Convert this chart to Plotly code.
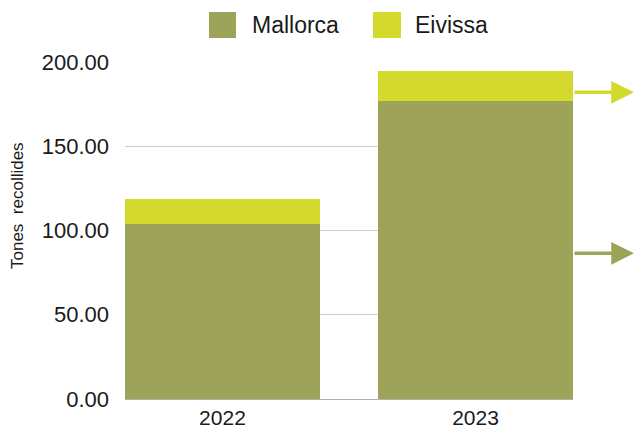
import plotly.graph_objects as go

years = ["2022", "2023"]
series_names = ["Mallorca", "Eivissa"]
mallorca = [104.0, 177.0]
eivissa = [14.5, 17.8]
colors = ["#9ea35a", "#d4d92e"]
y_ticks = [0, 50, 100, 150, 200]
arrow_levels = [182.0, 86.5]   # Eivissa arrow, Mallorca arrow
arrow_colors = [colors[1], colors[0]]

FONT = "Liberation Sans"
L, R, T, B = 125, 62, 62, 30
W, H = 635, 429
pw = W - L - R
ph = H - T - B

fig = go.Figure()
for name, vals, col in zip(series_names, [mallorca, eivissa], colors):
    fig.add_trace(go.Bar(x=years, y=vals, name=name, marker=dict(color=col, line=dict(width=0)),
                         width=0.77, showlegend=False, hoverinfo="skip"))

shapes = []
annotations = []

def px_x(p):
    return (p - L) / pw

def px_y(p):
    return (H - B - p) / ph

# manual legend
leg = [(209, 236, 250), (373, 401, 413)]
for (sx0, sx1, tx), name, col in zip(leg, series_names, colors):
    shapes.append(dict(type="rect", xref="paper", yref="paper",
                       x0=px_x(sx0), x1=px_x(sx1), y0=px_y(38), y1=px_y(12),
                       fillcolor=col, line=dict(width=0)))
    annotations.append(dict(xref="paper", yref="paper", x=px_x(tx), y=px_y(25),
                            text=name, showarrow=False, xanchor="left", yanchor="middle",
                            font=dict(family=FONT, size=23, color="#1a1a1a")))

# arrows to the right
for lvl, col in zip(arrow_levels, arrow_colors):
    annotations.append(dict(xref="paper", yref="y", x=px_x(634), y=lvl, text="",
                            showarrow=True, ax=-61, ay=0, arrowhead=2, arrowsize=1.3,
                            arrowwidth=3.5, arrowcolor=col, standoff=0, startstandoff=0))

# y axis title
annotations.append(dict(xref="paper", yref="paper", x=px_x(17), y=px_y(206),
                        text="Tones  recollides", textangle=-90, showarrow=False,
                        xanchor="center", yanchor="middle",
                        font=dict(family=FONT, size=17, color="#1a1a1a")))

fig.update_layout(
    width=W, height=H,
    margin=dict(l=L, r=R, t=T, b=B, pad=0, autoexpand=False),
    barmode="stack",
    paper_bgcolor="white", plot_bgcolor="white",
    font=dict(family=FONT, color="#1a1a1a"),
    shapes=shapes, annotations=annotations,
    xaxis=dict(type="category", range=[-0.385, 1.385], showgrid=False, automargin=False,
               showline=True, linecolor="#b0b0b0", linewidth=1,
               tickfont=dict(size=21, family=FONT, color="#1a1a1a"),
               ticks="", ticklabelstandoff=0),
    yaxis=dict(range=[0, 200], tickvals=y_ticks, tickformat=".2f", automargin=False,
               showgrid=True, gridcolor="#cccccc", gridwidth=1,
               zeroline=False, showline=False, ticks="",
               tickfont=dict(size=22, family=FONT, color="#1a1a1a"),
               ticklabelstandoff=15),
)

fig.write_html("out.html", config={"displayModeBar": False},
               post_script="document.body.style.margin='0';")
